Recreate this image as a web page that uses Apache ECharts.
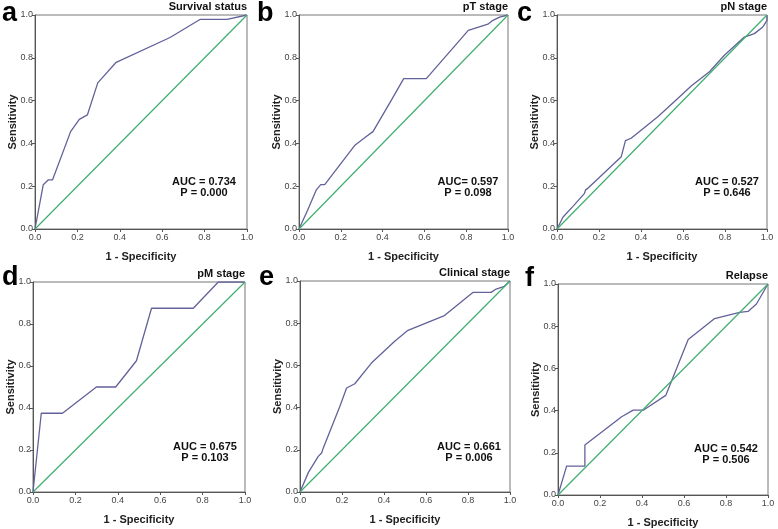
<!DOCTYPE html>
<html><head><meta charset="utf-8">
<script src="https://cdn.jsdelivr.net/npm/echarts@6/dist/echarts.min.js"></script>
<style>html,body{margin:0;padding:0;background:#fff}#c{width:778px;height:529px}</style>
</head><body><div id="c"></div>
<script>
const tickLabels = ['0.0','0.2','0.4','0.6','0.8','1.0'];
const panelLetters = ['a','b','c','d','e','f'];
const panelTitles = ['Survival status','pT stage','pN stage','pM stage','Clinical stage','Relapse'];
const aucTexts = ['AUC = 0.734','AUC= 0.597','AUC = 0.527','AUC = 0.675','AUC = 0.661','AUC = 0.542'];
const pTexts = ['P = 0.000','P = 0.098','P = 0.646','P = 0.103','P = 0.006','P = 0.506'];
const diagX = [0,1];
const diagY = [0,1];

const fprA = [0,0.039,0.063,0.083,0.168,0.209,0.247,0.296,0.383,0.637,0.78,0.906,1];
const tprA = [0,0.207,0.23,0.23,0.455,0.512,0.533,0.683,0.779,0.895,0.98,0.98,1];
const fprB = [0,0.04,0.083,0.104,0.123,0.266,0.322,0.354,0.442,0.501,0.609,0.81,0.904,0.928,0.96,1];
const tprB = [0,0.085,0.183,0.207,0.207,0.39,0.432,0.455,0.602,0.703,0.703,0.928,0.957,0.975,0.99,1];
const fprC = [0,0.029,0.076,0.13,0.136,0.147,0.306,0.326,0.353,0.48,0.575,0.639,0.726,0.797,0.892,0.94,0.98,1,1];
const tprC = [0,0.056,0.106,0.165,0.183,0.19,0.338,0.413,0.424,0.525,0.61,0.668,0.735,0.812,0.897,0.913,0.944,0.975,1];
const fprD = [0,0.039,0.139,0.299,0.39,0.488,0.559,0.756,0.874,1];
const tprD = [0,0.375,0.375,0.5,0.5,0.625,0.875,0.875,1,1];
const fprE = [0,0.04,0.087,0.103,0.111,0.19,0.222,0.261,0.34,0.451,0.514,0.688,0.823,0.91,0.934,0.973,1];
const tprE = [0,0.093,0.169,0.185,0.209,0.406,0.493,0.513,0.611,0.714,0.766,0.836,0.946,0.946,0.962,0.975,1];
const fprF = [0,0.041,0.128,0.128,0.303,0.358,0.406,0.513,0.62,0.746,0.865,0.905,0.945,1];
const tprF = [0,0.137,0.137,0.237,0.371,0.402,0.402,0.472,0.737,0.836,0.866,0.87,0.905,1];

const fprs = [fprA,fprB,fprC,fprD,fprE,fprF];
const tprs = [tprA,tprB,tprC,tprD,tprE,tprF];

const grids = [
  {left:35, top:15, width:212, height:214},
  {left:299, top:15, width:209, height:214},
  {left:557, top:15, width:210, height:214},
  {left:33, top:282, width:212, height:210},
  {left:300, top:281, width:210, height:211},
  {left:558, top:284, width:210, height:212}
];
const letterPos = [[2,12],[257,12],[517,12],[2,276],[259,276],[525,277]];
const aucPos = [[204,187],[468,187],[727,187],[205,452],[469,452],[726,454]];

const FONT = '"Liberation Sans", Arial, sans-serif';
const xAxes = [], yAxes = [], series = [], graphics = [];
grids.forEach((g,i)=>{
  xAxes.push({
    type:'value', gridIndex:i, min:0, max:1, interval:0.2,
    name:'1 - Specificity', nameLocation:'middle', nameGap:22,
    nameTextStyle:{fontFamily:FONT, fontWeight:'bold', fontSize:11, color:'#222'},
    axisLine:{show:true, lineStyle:{color:'#555', width:1}},
    axisTick:{show:true, length:3, lineStyle:{color:'#555'}},
    axisLabel:{fontFamily:FONT, fontSize:9, color:'#444', margin:4,
      formatter:(v)=>tickLabels[Math.round(v*5)]},
    splitLine:{show:false}
  });
  yAxes.push({
    type:'value', gridIndex:i, min:0, max:1, interval:0.2,
    name:'Sensitivity', nameLocation:'middle', nameGap:17, nameMoveOverlap:false,
    nameTextStyle:{fontFamily:FONT, fontWeight:'bold', fontSize:11, color:'#222'},
    axisLine:{show:true, lineStyle:{color:'#555', width:1}},
    axisTick:{show:true, length:3, lineStyle:{color:'#555'}},
    axisLabel:{fontFamily:FONT, fontSize:9, color:'#444', margin:2,
      formatter:(v)=>tickLabels[Math.round(v*5)]},
    splitLine:{show:false}
  });
  series.push({
    type:'line', xAxisIndex:i, yAxisIndex:i, symbol:'none', silent:true,
    data: fprs[i].map((x,k)=>[x, tprs[i][k]]),
    lineStyle:{color:'#62629a', width:1.3}, z:3,
    markLine:{silent:true, symbol:'none', animation:false, label:{show:false},
      lineStyle:{color:'#3fae70', width:1.2, type:'solid'},
      data:[[{coord:[diagX[0], diagY[0]]},{coord:[diagX[1], diagY[1]]}]]}
  });
  graphics.push({type:'text', left:letterPos[i][0], top:letterPos[i][1]-12,
    style:{text:panelLetters[i], font:'bold 27px '+FONT, fill:'#000'}});
  graphics.push({type:'text', right:778-(g.left+g.width), top:g.top-14,
    style:{text:panelTitles[i], font:'bold 11px '+FONT, fill:'#111', textAlign:'right'}});
  graphics.push({type:'text', x:aucPos[i][0], y:aucPos[i][1],
    style:{text:aucTexts[i]+'\n'+pTexts[i], font:'bold 11px '+FONT, fill:'#111',
      align:'center', verticalAlign:'middle', lineHeight:11}});
});

const chart = echarts.init(document.getElementById('c'), null, {renderer:'canvas'});
chart.setOption({
  animation:false,
  grid: grids.map(g=>Object.assign({show:true, borderColor:'#777', borderWidth:1, backgroundColor:'#fff'}, g)),
  xAxis:xAxes, yAxis:yAxes, series:series, graphic:graphics
});
</script></body></html>
